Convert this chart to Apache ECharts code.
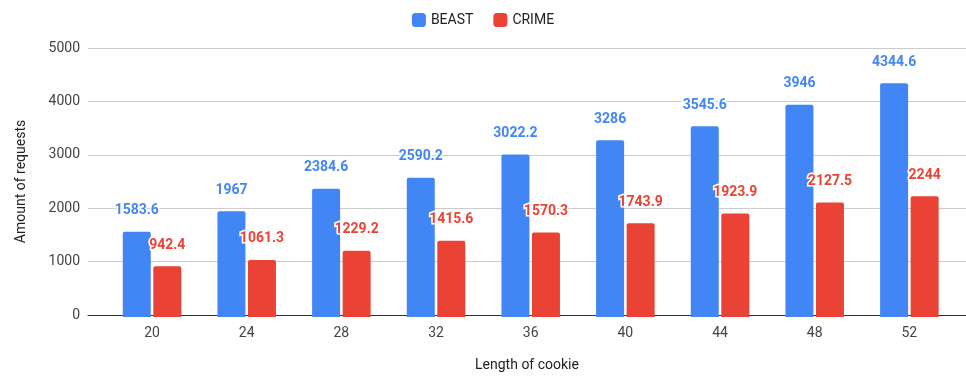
<!DOCTYPE html>
<html>
<head>
<meta charset="utf-8">
<script src="https://cdn.jsdelivr.net/npm/echarts@6/dist/echarts.min.js"></script>
<style>
  html, body { margin: 0; padding: 0; background: #fff; }
  #chart { width: 966px; height: 377px; }
</style>
</head>
<body>
<div id="chart"></div>
<script>
// Cookie lengths tested and the average number of requests each attack needed
const cookieLengths = ['20', '24', '28', '32', '36', '40', '44', '48', '52'];
const beastRequests = [1583.6, 1967, 2384.6, 2590.2, 3022.2, 3286, 3545.6, 3946, 4344.6];
const crimeRequests = [942.4, 1061.3, 1229.2, 1415.6, 1570.3, 1743.9, 1923.9, 2127.5, 2244];
const yTicks = [0, 1000, 2000, 3000, 4000, 5000];

const FONT = 'Roboto';
const BLUE = '#4285F4';
const RED = '#EA4335';

const chart = echarts.init(document.getElementById('chart'), null, { renderer: 'canvas' });

function valueLabel(color) {
  return {
    show: true,
    position: 'top',
    distance: 14,
    color: color,
    fontFamily: FONT,
    fontWeight: 'bold',
    fontSize: 14,
    textBorderColor: '#fff',
    textBorderWidth: 3
  };
}

chart.setOption({
  animation: false,
  textStyle: { fontFamily: FONT },
  legend: {
    top: 8,
    left: 'center',
    itemWidth: 14,
    itemHeight: 14,
    itemGap: 20,
    icon: 'roundRect',
    textStyle: { fontFamily: FONT, fontSize: 14, color: '#222' },
    data: ['BEAST', 'CRIME']
  },
  grid: [
    // full-width frame: gridlines, y labels and baseline
    { left: 88, right: 0, top: 48, bottom: 60, containLabel: false },
    // bar area: category slots
    { left: 104.7, right: 9.3, top: 48, bottom: 60, containLabel: false }
  ],
  xAxis: [
    {
      gridIndex: 0,
      type: 'value',
      min: 0, max: 1,
      axisLabel: { show: false },
      axisTick: { show: false },
      splitLine: { show: false },
      axisLine: { show: true, onZero: false, lineStyle: { color: '#333', width: 1 } },
      name: 'Length of cookie',
      nameLocation: 'middle',
      nameGap: 43,
      nameTextStyle: { fontFamily: FONT, fontSize: 14, color: '#222' }
    },
    {
      gridIndex: 1,
      type: 'category',
      data: cookieLengths,
      axisLine: { show: false },
      axisTick: { show: false },
      axisLabel: { fontFamily: FONT, fontSize: 14, color: '#444', margin: 9 }
    }
  ],
  yAxis: [
    {
      gridIndex: 0,
      type: 'value',
      min: yTicks[0],
      max: yTicks[yTicks.length - 1],
      interval: 1000,
      axisLine: { show: false },
      axisTick: { show: false },
      axisLabel: {
        fontFamily: FONT, fontSize: 14, color: '#444', margin: 8,
        formatter: v => String(v)
      },
      splitLine: { lineStyle: { color: '#ccc', width: 1 } },
      name: 'Amount of requests',
      nameLocation: 'middle',
      nameGap: 60,
      nameTextStyle: { fontFamily: FONT, fontSize: 14, color: '#222' }
    },
    {
      gridIndex: 1,
      type: 'value',
      min: yTicks[0],
      max: yTicks[yTicks.length - 1],
      show: false,
      splitLine: { show: false }
    }
  ],
  series: [
    {
      name: 'BEAST',
      type: 'bar',
      xAxisIndex: 1,
      yAxisIndex: 1,
      data: beastRequests,
      barWidth: 28,
      barGap: '9%',
      itemStyle: { color: BLUE, borderRadius: [2, 2, 0, 0] },
      label: valueLabel(BLUE)
    },
    {
      name: 'CRIME',
      type: 'bar',
      xAxisIndex: 1,
      yAxisIndex: 1,
      data: crimeRequests,
      barWidth: 28,
      barGap: '9%',
      itemStyle: { color: RED, borderRadius: [2, 2, 0, 0] },
      label: valueLabel(RED)
    }
  ]
});
</script>
</body>
</html>
